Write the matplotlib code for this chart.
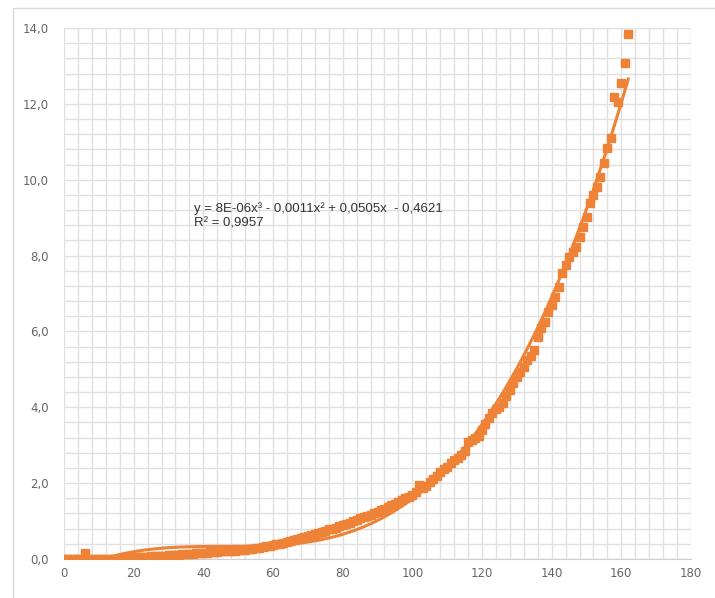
import matplotlib
matplotlib.use('Agg')
import matplotlib.pyplot as plt
import numpy as np
from matplotlib.ticker import MultipleLocator, FuncFormatter
from matplotlib.patches import Rectangle

# measured values, one per step of x
x_vals = list(range(0, 163))
y_vals = [
    0.00, 0.00, 0.00, 0.00, 0.00, 0.00, 0.15, 0.00, 0.00, 0.00,
    0.00, 0.00, 0.00, 0.00, 0.00, 0.01, 0.02, 0.02, 0.03, 0.03,
    0.04, 0.05, 0.05, 0.06, 0.06, 0.07, 0.07, 0.08, 0.09, 0.09,
    0.10, 0.10, 0.11, 0.11, 0.12, 0.13, 0.13, 0.14, 0.15, 0.16,
    0.17, 0.17, 0.18, 0.18, 0.19, 0.20, 0.20, 0.21, 0.22, 0.22,
    0.23, 0.24, 0.25, 0.26, 0.27, 0.28, 0.30, 0.31, 0.33, 0.35,
    0.37, 0.39, 0.40, 0.42, 0.44, 0.47, 0.49, 0.52, 0.55, 0.57,
    0.60, 0.63, 0.66, 0.68, 0.71, 0.74, 0.78, 0.80, 0.83, 0.86,
    0.90, 0.93, 0.96, 1.00, 1.04, 1.07, 1.10, 1.14, 1.17, 1.20,
    1.25, 1.29, 1.33, 1.36, 1.42, 1.46, 1.50, 1.55, 1.60, 1.64,
    1.70, 1.77, 1.95, 1.86, 1.92, 2.02, 2.12, 2.20, 2.30, 2.36,
    2.43, 2.52, 2.60, 2.66, 2.75, 2.85, 3.08, 3.15, 3.20, 3.24,
    3.40, 3.55, 3.72, 3.86, 3.95, 4.02, 4.10, 4.30, 4.45, 4.63,
    4.80, 4.92, 5.07, 5.25, 5.35, 5.52, 5.86, 6.10, 6.24, 6.50,
    6.70, 6.92, 7.18, 7.55, 7.75, 7.97, 8.10, 8.23, 8.50, 8.76,
    9.02, 9.38, 9.60, 9.82, 10.08, 10.43, 10.83, 11.09, 12.19, 12.06,
    12.54, 13.07, 13.84,
]
eq_text = 'y = 8E-06x³ - 0,0011x² + 0,0505x  - 0,4621\nR² = 0,9957'

orange = '#EE8236'
grid_col = '#E0E0E0'
label_col = '#666666'

fig = plt.figure(figsize=(7.15, 5.98), dpi=100)
ax = fig.add_axes([64 / 715, 39 / 598, 627 / 715, 531 / 598])

# chart area border
fig.patches.append(Rectangle((13 / 715, -0.1), 2.0, 0.1 + 590 / 598,
                             transform=fig.transFigure, fill=False,
                             edgecolor='#D9D9D9', linewidth=1.0))

x = np.array(x_vals, dtype=float)
y = np.array(y_vals)

ax.plot(x, y, linestyle='none', marker='s', markersize=5.5,
        color=orange, zorder=3)

# cubic trendline like Excel
coef = np.polyfit(x, y, 3)
xt = np.linspace(x.min(), x.max(), 400)
ax.plot(xt, np.polyval(coef, xt), color=orange, linewidth=2.2, zorder=2)

ax.set_xlim(0, 180)
ax.set_ylim(0, 14)
ax.xaxis.set_major_locator(MultipleLocator(20))
ax.xaxis.set_minor_locator(MultipleLocator(4))
ax.yaxis.set_major_locator(MultipleLocator(2))
ax.yaxis.set_minor_locator(MultipleLocator(0.4))
ax.yaxis.set_major_formatter(FuncFormatter(lambda v, p: f'{v:.1f}'.replace('.', ',')))
ax.grid(True, which='both', color=grid_col, linewidth=1.0)
ax.set_axisbelow(True)

ax.tick_params(which='both', length=0, labelsize=8.5, labelcolor=label_col)
ax.tick_params(axis='y', pad=11)
ax.tick_params(axis='x', pad=6)
for s in ax.spines.values():
    s.set_visible(False)
ax.spines['bottom'].set_visible(True)
ax.spines['bottom'].set_color('#D0D0D0')

ax.text(37.2, 9.42, eq_text, fontsize=9.5, family='Liberation Sans',
        color='#333333', va='top', linespacing=1.3)

fig.savefig('out.png', dpi=100)
